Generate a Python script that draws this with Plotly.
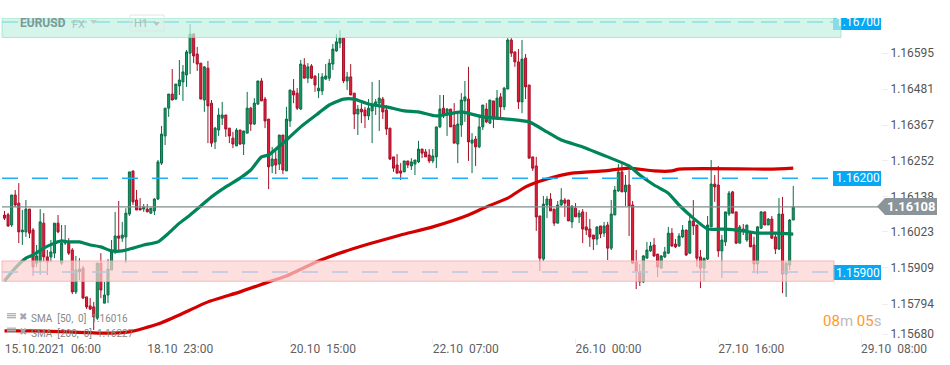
import plotly.graph_objects as go

# ---- candle data (EURUSD H1) ----
opens = [
1.16082,1.16083,1.16050,1.16146,1.16120,1.16028,1.16028,1.16101,1.16034,1.15928,
1.15932,1.16056,1.15948,1.15948,1.15960,1.16056,1.15928,1.15992,1.15992,1.15970,
1.15836,1.15900,1.15912,1.15820,1.15791,1.15788,1.15752,1.15928,1.15800,1.15826,
1.15906,1.15964,1.16015,1.16008,1.16012,1.16085,1.16223,1.16130,1.16104,1.16101,
1.16101,1.16088,1.16095,1.16133,1.16248,1.16335,1.16424,1.16469,1.16453,1.16495,
1.16508,1.16530,1.16600,1.16661,1.16597,1.16568,1.16450,1.16552,1.16440,1.16316,
1.16354,1.16392,1.16402,1.16360,1.16328,1.16303,1.16354,1.16309,1.16344,1.16424,
1.16373,1.16437,1.16511,1.16453,1.16389,1.16239,1.16261,1.16245,1.16338,1.16223,
1.16383,1.16479,1.16472,1.16421,1.16562,1.16520,1.16559,1.16527,1.16479,1.16479,
1.16517,1.16520,1.16565,1.16607,1.16632,1.16648,1.16511,1.16524,1.16472,1.16405,
1.16421,1.16418,1.16399,1.16415,1.16431,1.16440,1.16453,1.16418,1.16360,1.16268,
1.16242,1.16223,1.16220,1.16255,1.16239,1.16245,1.16252,1.16293,1.16284,1.16274,
1.16255,1.16268,1.16364,1.16424,1.16408,1.16421,1.16370,1.16309,1.16370,1.16447,
1.16453,1.16312,1.16325,1.16300,1.16364,1.16421,1.16376,1.16447,1.16392,1.16460,
1.16428,1.16485,1.16642,1.16604,1.16572,1.16444,1.16584,1.16498,1.16268,1.16239,
1.16079,1.15941,1.16114,1.16133,1.16101,1.16056,1.16114,1.16130,1.16130,1.16060,
1.16104,1.16076,1.16092,1.16044,1.16037,1.16018,1.16005,1.16047,1.16024,1.16050,
1.15976,1.16082,1.16159,1.16220,1.16156,1.16178,1.16114,1.15932,1.15900,1.15868,
1.15944,1.15967,1.15986,1.15957,1.15912,1.15948,1.15960,1.16024,1.15989,1.15983,
1.16012,1.16034,1.15960,1.16063,1.16050,1.15948,1.15912,1.15941,1.16044,1.16181,
1.16178,1.15967,1.15996,1.16085,1.16156,1.16092,1.15992,1.16037,1.16002,1.16024,
1.15986,1.15925,1.16040,1.16092,1.16050,1.16069,1.16012,1.15973,1.16085,1.15893,
1.15922,1.16066]
highs = [
1.16095,1.16089,1.16146,1.16162,1.16184,1.16098,1.16130,1.16101,1.16040,1.15986,
1.16101,1.16088,1.15970,1.16002,1.16056,1.16082,1.16050,1.16050,1.16008,1.15976,
1.15951,1.15944,1.15919,1.15820,1.15816,1.15804,1.15928,1.15960,1.15868,1.15941,
1.16002,1.16092,1.16127,1.16060,1.16104,1.16220,1.16223,1.16162,1.16136,1.16117,
1.16117,1.16104,1.16136,1.16258,1.16367,1.16424,1.16469,1.16549,1.16501,1.16578,
1.16562,1.16610,1.16693,1.16664,1.16620,1.16568,1.16559,1.16575,1.16450,1.16364,
1.16424,1.16444,1.16402,1.16360,1.16348,1.16360,1.16354,1.16351,1.16476,1.16428,
1.16456,1.16511,1.16520,1.16460,1.16389,1.16300,1.16290,1.16338,1.16338,1.16428,
1.16482,1.16517,1.16488,1.16578,1.16584,1.16568,1.16565,1.16527,1.16536,1.16536,
1.16565,1.16581,1.16629,1.16661,1.16674,1.16648,1.16540,1.16565,1.16472,1.16434,
1.16440,1.16428,1.16453,1.16508,1.16453,1.16514,1.16460,1.16434,1.16360,1.16268,
1.16277,1.16248,1.16255,1.16255,1.16264,1.16258,1.16319,1.16293,1.16293,1.16293,
1.16293,1.16364,1.16466,1.16466,1.16424,1.16421,1.16440,1.16408,1.16472,1.16511,
1.16556,1.16344,1.16335,1.16402,1.16434,1.16440,1.16450,1.16447,1.16482,1.16472,
1.16492,1.16648,1.16648,1.16604,1.16613,1.16642,1.16597,1.16498,1.16268,1.16268,
1.16079,1.16143,1.16143,1.16152,1.16101,1.16127,1.16168,1.16136,1.16130,1.16111,
1.16120,1.16098,1.16101,1.16092,1.16069,1.16018,1.16044,1.16047,1.16060,1.16060,
1.16130,1.16175,1.16245,1.16245,1.16210,1.16226,1.16127,1.15970,1.15925,1.15954,
1.15996,1.15996,1.16008,1.15957,1.15954,1.15980,1.16044,1.16040,1.16005,1.16024,
1.16050,1.16034,1.16088,1.16130,1.16050,1.15970,1.15944,1.16079,1.16258,1.16210,
1.16239,1.16018,1.16092,1.16159,1.16159,1.16092,1.16050,1.16053,1.16050,1.16024,
1.16012,1.16047,1.16095,1.16092,1.16072,1.16079,1.16024,1.16136,1.16140,1.15932,
1.16069,1.16175]
lows = [
1.16066,1.16044,1.16044,1.16108,1.15992,1.15986,1.16012,1.16008,1.15887,1.15916,
1.15890,1.15932,1.15890,1.15932,1.15944,1.16024,1.15922,1.15986,1.15954,1.15829,
1.15829,1.15874,1.15816,1.15781,1.15778,1.15714,1.15746,1.15816,1.15800,1.15800,
1.15906,1.15957,1.15970,1.15996,1.15928,1.16079,1.16114,1.16098,1.16098,1.16092,
1.16092,1.16085,1.16082,1.16130,1.16242,1.16306,1.16396,1.16450,1.16450,1.16466,
1.16447,1.16492,1.16533,1.16568,1.16543,1.16453,1.16412,1.16312,1.16300,1.16293,
1.16335,1.16370,1.16332,1.16312,1.16296,1.16303,1.16306,1.16274,1.16344,1.16351,
1.16370,1.16434,1.16447,1.16360,1.16165,1.16216,1.16213,1.16226,1.16213,1.16223,
1.16364,1.16440,1.16418,1.16418,1.16520,1.16504,1.16517,1.16476,1.16456,1.16466,
1.16514,1.16511,1.16546,1.16604,1.16616,1.16504,1.16482,1.16466,1.16357,1.16338,
1.16376,1.16360,1.16386,1.16312,1.16402,1.16351,1.16389,1.16338,1.16258,1.16220,
1.16216,1.16194,1.16220,1.16232,1.16226,1.16210,1.16248,1.16264,1.16268,1.16248,
1.16248,1.16232,1.16360,1.16392,1.16335,1.16364,1.16312,1.16248,1.16332,1.16380,
1.16255,1.16216,1.16239,1.16296,1.16354,1.16376,1.16373,1.16360,1.16386,1.16392,
1.16418,1.16485,1.16588,1.16556,1.16421,1.16408,1.16453,1.16264,1.16223,1.16031,
1.15903,1.15935,1.16072,1.16095,1.16047,1.16056,1.16111,1.16076,1.16063,1.16040,
1.16076,1.16056,1.15992,1.16018,1.15980,1.15970,1.15986,1.16008,1.16012,1.15938,
1.15970,1.16082,1.16156,1.16156,1.16111,1.16015,1.15925,1.15845,1.15855,1.15864,
1.15944,1.15964,1.15948,1.15884,1.15912,1.15944,1.15957,1.15980,1.15976,1.15980,
1.16008,1.15951,1.15957,1.16018,1.15916,1.15848,1.15871,1.15938,1.16044,1.16124,
1.15948,1.15880,1.15983,1.16079,1.16088,1.15989,1.15992,1.16018,1.15996,1.15980,
1.15896,1.15893,1.16037,1.16050,1.16050,1.16005,1.15957,1.15970,1.15832,1.15820,
1.15906,1.16066]
closes = [
1.16072,1.16047,1.16146,1.16114,1.16028,1.16034,1.16101,1.16024,1.15916,1.15951,
1.16060,1.15948,1.15932,1.15964,1.16056,1.16028,1.15992,1.15999,1.15960,1.15836,
1.15906,1.15909,1.15816,1.15788,1.15781,1.15756,1.15928,1.15842,1.15826,1.15909,
1.15964,1.16015,1.16008,1.16018,1.16088,1.16220,1.16124,1.16098,1.16098,1.16108,
1.16092,1.16104,1.16133,1.16252,1.16341,1.16424,1.16469,1.16450,1.16501,1.16514,
1.16540,1.16604,1.16661,1.16591,1.16565,1.16453,1.16556,1.16431,1.16312,1.16360,
1.16402,1.16402,1.16357,1.16335,1.16309,1.16354,1.16309,1.16351,1.16424,1.16373,
1.16440,1.16511,1.16447,1.16383,1.16236,1.16261,1.16242,1.16338,1.16226,1.16389,
1.16482,1.16466,1.16424,1.16565,1.16520,1.16556,1.16520,1.16498,1.16488,1.16524,
1.16527,1.16568,1.16613,1.16636,1.16648,1.16511,1.16524,1.16466,1.16405,1.16421,
1.16412,1.16399,1.16424,1.16431,1.16444,1.16456,1.16412,1.16357,1.16261,1.16232,
1.16216,1.16216,1.16255,1.16242,1.16252,1.16258,1.16293,1.16280,1.16268,1.16255,
1.16271,1.16364,1.16421,1.16405,1.16421,1.16364,1.16312,1.16373,1.16450,1.16460,
1.16316,1.16322,1.16300,1.16364,1.16434,1.16380,1.16450,1.16389,1.16456,1.16428,
1.16488,1.16642,1.16600,1.16572,1.16444,1.16581,1.16492,1.16264,1.16232,1.16076,
1.15944,1.16117,1.16133,1.16095,1.16056,1.16114,1.16130,1.16120,1.16063,1.16111,
1.16076,1.16088,1.16037,1.16034,1.16012,1.16005,1.16044,1.16021,1.16047,1.15976,
1.16085,1.16162,1.16220,1.16156,1.16178,1.16111,1.15928,1.15903,1.15868,1.15951,
1.15970,1.15983,1.15951,1.15916,1.15951,1.15964,1.16024,1.15983,1.15980,1.16015,
1.16034,1.15954,1.16063,1.16047,1.15944,1.15912,1.15944,1.16050,1.16181,1.16172,
1.15967,1.16002,1.16092,1.16152,1.16088,1.15992,1.16044,1.16031,1.16050,1.15980,
1.15925,1.16044,1.16092,1.16050,1.16069,1.16008,1.15973,1.16085,1.15893,1.15928,
1.16066,1.16108]

sma50_bar = [0,3,6,8,11,14,16,18,21,24,27,30,33,36,39,43,46,49,52,55,58,62,66,69,72,74,79,83,88,91,95,98,
             102,107,112,116,121,128,134,141,147,152,156,162,169,175,178,182,186,189,193,197,202,207,211,216,221]
sma50_val = [1.15871,1.15912,1.15944,1.15954,1.15976,1.15992,1.15999,1.15996,1.15996,1.15986,1.15980,1.15967,
             1.15967,1.15976,1.15986,1.15996,1.16024,1.16056,1.16082,1.16111,1.16140,1.16172,1.16200,1.16226,
             1.16268,1.16274,1.16322,1.16364,1.16408,1.16434,1.16453,1.16453,1.16437,1.16428,1.16415,1.16412,
             1.16399,1.16412,1.16396,1.16389,1.16380,1.16348,1.16322,1.16300,1.16268,1.16239,1.16210,1.16178,
             1.16152,1.16114,1.16072,1.16037,1.16037,1.16031,1.16024,1.16024,1.16021]
sma200_bar = [0,8,18,27,35,43,49,57,66,74,79,88,95,102,111,120,130,135,141,146,152,159,168,175,182,187,189,213,215,221]
sma200_val = [1.15711,1.15711,1.15708,1.15704,1.15708,1.15733,1.15762,1.15804,1.15836,1.15868,1.15887,1.15935,
              1.15964,1.15989,1.16018,1.16044,1.16082,1.16108,1.16136,1.16172,1.16197,1.16216,1.16223,1.16232,
              1.16223,1.16223,1.16229,1.16229,1.16229,1.16232]

y_tick_labels = ["1.16595","1.16481","1.16367","1.16252","1.16138","1.16023","1.15909","1.15794","1.15680"]
y_tick_at = [1.16600,1.16485,1.16370,1.16255,1.16141,1.16028,1.15914,1.15797,1.15701]
x_tick_bars = [4.3,40,80,120,160,200,240]
x_tick_labels = ["15.10.2021  06:00","18.10  23:00","20.10  15:00","22.10  07:00","26.10  00:00","27.10  16:00","29.10  08:00"]

zone_green = [1.16712, 1.16650]
zone_red = [1.15935, 1.15870]
levels = [1.16700, 1.16200, 1.15900]
level_labels = ["1.16700", "1.16200", "1.15900"]
last_price = 1.16108
legend_rows = ["SMA  [50,  0]  1.16016", "SMA  [200,  0]  1.16227"]

W, H = 950, 365
L_R = 881           # right edge of plot (px)
T, B = 18, 338      # top/bottom of plot (px)
PITCH, X0 = 3.569, 4.5

def bar(px):   return (px - X0) / PITCH
def fx(px):    return px / L_R
def fy(py):    return (B - py) / (B - T)

fig = go.Figure()
fig.add_trace(go.Candlestick(
    x=list(range(len(opens))), open=opens, high=highs, low=lows, close=closes,
    increasing=dict(line=dict(color="#0b6e48", width=1), fillcolor="#149a62"),
    decreasing=dict(line=dict(color="#a80f28", width=1), fillcolor="#e2203a"),
    whiskerwidth=0, hoverinfo="skip", showlegend=False))
fig.add_trace(go.Scatter(x=sma200_bar, y=sma200_val, mode="lines",
                         line=dict(color="#d40000", width=3.2, shape="spline", smoothing=0.5),
                         hoverinfo="skip", showlegend=False))
fig.add_trace(go.Scatter(x=sma50_bar, y=sma50_val, mode="lines",
                         line=dict(color="#00845a", width=3.2, shape="spline", smoothing=0.5),
                         hoverinfo="skip", showlegend=False))

shapes = []
# current price line
shapes.append(dict(type="line", xref="x", yref="y", x0=bar(2), x1=bar(L_R), y0=last_price, y1=last_price,
                   line=dict(color="#7f8c8d", width=1.2), layer="above"))
# dashed levels
dashes = ["16px,7px", "16px,14px", "16px,14px"]
for lv, d in zip(levels, dashes):
    shapes.append(dict(type="line", xref="x", yref="y", x0=bar(2), x1=bar(833), y0=lv, y1=lv,
                       line=dict(color="#1cb0f6", width=1.5, dash=d), layer="above"))
# zones
shapes.append(dict(type="rect", xref="x", yref="y", x0=bar(2), x1=bar(841), y0=zone_green[1], y1=zone_green[0],
                   fillcolor="rgba(195,241,225,0.7)", line=dict(color="rgba(120,225,190,0.6)", width=1), layer="above"))
shapes.append(dict(type="rect", xref="x", yref="y", x0=bar(2), x1=bar(834), y0=zone_red[1], y1=zone_red[0],
                   fillcolor="rgba(252,209,209,0.7)", line=dict(color="rgba(245,170,170,0.8)", width=1), layer="above"))
# label boxes
for y0, y1 in [(18, 30), (171, 186), (265, 280)]:
    shapes.insert(0, dict(type="rect", xref="paper", yref="paper", x0=fx(833), x1=fx(881), y0=fy(y1), y1=fy(y0),
                       fillcolor="#03a9f4", line=dict(width=0), layer="above"))
# last price arrow
p = [(877, 206.5), (885, 198), (937, 198), (937, 215), (885, 215)]
path = "M " + " L ".join(f"{fx(a):.5f} {fy(b):.5f}" for a, b in p) + " Z"
shapes.append(dict(type="path", xref="paper", yref="paper", path=path, fillcolor="#8a9499", line=dict(width=0), layer="above"))
# top header
shapes.append(dict(type="rect", xref="paper", yref="paper", x0=fx(130), x1=fx(164), y0=fy(31), y1=fy(15),
                   fillcolor="rgba(255,255,255,0)", line=dict(color="#dfe6e4", width=1), layer="above"))
for tx, ty, col in [(90, 20, "#bcd0ca"), (153, 22, "#b5c8c2")]:
    tri = f"M {fx(tx):.5f} {fy(ty):.5f} L {fx(tx+7):.5f} {fy(ty):.5f} L {fx(tx+3.5):.5f} {fy(ty+4):.5f} Z"
    shapes.append(dict(type="path", xref="paper", yref="paper", path=tri, fillcolor=col, line=dict(width=0), layer="above"))
# legend icons
for ly in (313, 327.5):
    for k in range(3):
        shapes.append(dict(type="rect", xref="paper", yref="paper", x0=fx(7), x1=fx(16),
                           y0=fy(ly + 2 * k + 1.4), y1=fy(ly + 2 * k), fillcolor="#b5b5b5", line=dict(width=0), layer="above"))

ann = []
def text(px, py, s, size=12, color="#555", anchor="left", bold=False, family="Roboto"):
    ann.append(dict(xref="paper", yref="paper", x=fx(px), y=fy(py), text=f"<b>{s}</b>" if bold else s,
                    showarrow=False, xanchor=anchor, yanchor="middle", borderpad=0, borderwidth=0,
                    font=dict(size=size, color=color, family=family)))

for s, py in zip(level_labels, [22, 178, 272.5]):
    text(858, py, s, color="white", anchor="center")
text(911, 206.5, f"{last_price:.5f}", color="white", anchor="center", bold=True, size=13)
text(20, 23, "EURUSD", size=12, color="#7b9a94", bold=True)
text(72, 24, "FX", size=11, color="#a8c2ba")
text(134, 23.5, "H1", size=11, color="#a8bdb6")
for s, py in zip(legend_rows, [318.5, 333]):
    text(31, py, s.replace(" ", "\u00a0"), size=10, color="#888")
for py in (316, 331):
    text(23, py, "✖", size=10, color="#a5a5a5", anchor="center", family="DejaVu Sans")
text(881, 320.5,
     '<span style="color:#ff9a1f">08</span><span style="color:#bbbbbb">m </span>'
     '<span style="color:#ff9a1f">05</span><span style="color:#bbbbbb">s</span>',
     size=15, anchor="right")

tick_text = [s.replace(" ", "\u00a0") for s in x_tick_labels]

fig.update_layout(
    width=W, height=H, margin=dict(l=0, r=W - L_R, t=T, b=H - B, pad=0, autoexpand=False),
    paper_bgcolor="white", plot_bgcolor="white", showlegend=False, hovermode=False, boxgap=0.18,
    font=dict(family="Roboto", size=12, color="#555"),
    shapes=shapes, annotations=ann,
    xaxis=dict(range=[bar(0), bar(L_R)], rangeslider=dict(visible=False), showgrid=False, zeroline=False,
               showline=False, tickmode="array", tickvals=x_tick_bars, ticktext=tick_text, automargin=False,
               ticks="outside", ticklen=5, tickcolor="#eeeeee", tickfont=dict(size=12, color="#606060"),
               ticklabelshift=33, ticklabelstandoff=-5, ticklabeloverflow="allow", tickangle=0),
    yaxis=dict(range=[1.1 + (6770 - 3.2 * B) / 1e5, 1.1 + (6770 - 3.2 * T) / 1e5], side="right", showgrid=False,
               zeroline=False, showline=False, tickmode="array", tickvals=y_tick_at, ticktext=y_tick_labels,
               automargin=False,
               ticks="outside", ticklen=6, tickcolor="#eeeeee", tickfont=dict(size=12, color="#555")),
)
fig.write_html("out.html", config=dict(displayModeBar=False),
               post_script="document.body.style.margin='0';document.body.style.overflow='hidden';")
